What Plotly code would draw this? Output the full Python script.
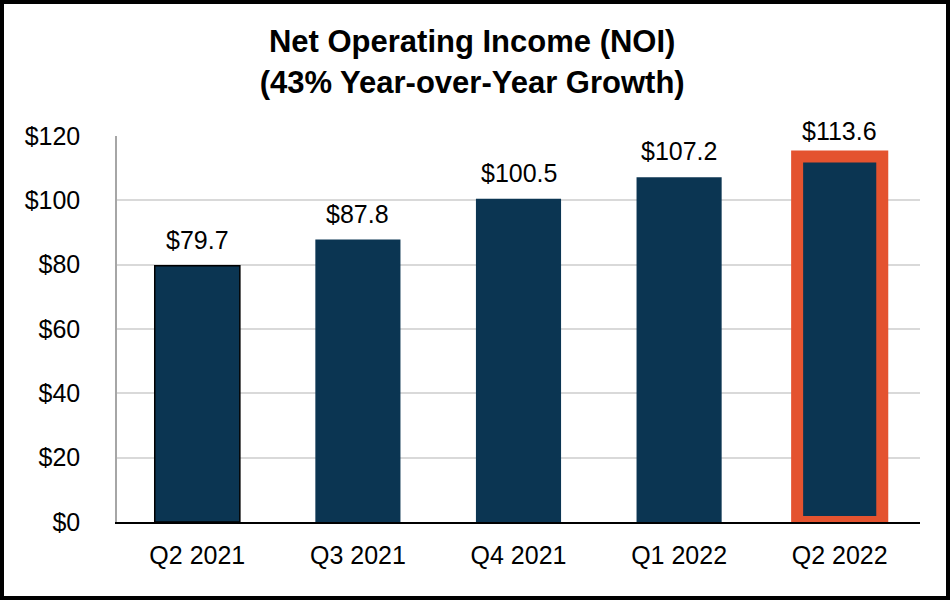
import plotly.graph_objects as go

# NOI by quarter, $ millions
quarters = ["Q2 2021", "Q3 2021", "Q4 2021", "Q1 2022", "Q2 2022"]
noi = [79.7, 87.8, 100.5, 107.2, 113.6]
labels = ["$79.7", "$87.8", "$100.5", "$107.2", "$113.6"]
y_ticks = [0, 20, 40, 60, 80, 100, 120]
y_tick_text = ["$0", "$20", "$40", "$60", "$80", "$100", "$120"]

NAVY = "#0B3552"
ORANGE = "#E4532F"
FONT = "Arial, Liberation Sans, sans-serif"

# outline per bar: thin black on the first, thick orange on the latest
line_colors = ["#000000", NAVY, NAVY, NAVY, ORANGE]
line_widths = [1.5, 0, 0, 0, 12]

W, H = 950, 600
L, R, T, B = 117, 30, 136, 78
pw, ph = W - L - R, H - T - B

fig = go.Figure(go.Bar(
    x=quarters, y=noi,
    marker=dict(color=NAVY, line=dict(color=line_colors, width=line_widths)),
    hoverinfo="skip",
))

for q, v, lab in zip(quarters, noi, labels):
    fig.add_annotation(x=q, y=v, text=lab, showarrow=False, yanchor="bottom",
                       yshift=10, font=dict(size=25, color="#000000", family=FONT))

# frame around the whole picture (paper coords reach out into the margins)
fig.add_shape(type="rect", xref="paper", yref="paper",
              x0=(2 - L) / pw, x1=(W - 2 - L) / pw,
              y0=-(B - 2) / ph, y1=(ph + T - 2) / ph,
              line=dict(color="#000000", width=4), layer="above")

fig.update_layout(
    width=W, height=H,
    margin=dict(l=L, r=R, t=T, b=B),
    paper_bgcolor="white", plot_bgcolor="white",
    bargap=0.47,
    showlegend=False,
    title=dict(text="<b>Net Operating Income (NOI)<br>(43% Year-over-Year Growth)</b>",
               x=0.497, xref="container", xanchor="center",
               y=0.913, yref="container", yanchor="top",
               font=dict(size=31, color="#000000", family=FONT)),
    font=dict(family=FONT, color="#000000"),
)
fig.update_xaxes(showline=True, linecolor="#000000", linewidth=1.5,
                 tickfont=dict(size=25), ticklabelstandoff=10, showgrid=False)
fig.update_yaxes(range=[0, 120], tickvals=y_ticks, ticktext=y_tick_text,
                 showgrid=True, gridcolor="#D9D9D9", gridwidth=1.5, zeroline=False,
                 showline=True, linecolor="#A6A6A6", linewidth=1.5,
                 tickfont=dict(size=25), ticklabelstandoff=30)

# drop the page's default body margin so the figure sits at the window corner
fig.write_html("out.html", config={"displayModeBar": False},
               post_script="document.body.style.margin='0';")
